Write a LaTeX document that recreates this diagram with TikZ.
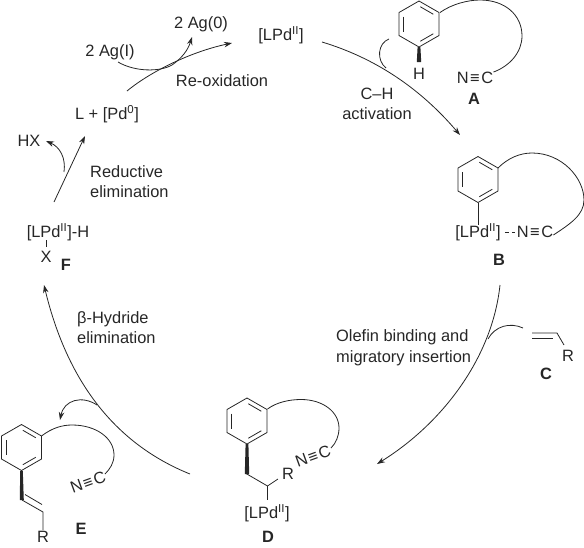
\documentclass[tikz,border=0pt]{standalone}
\usepackage{fontspec}
\setmainfont{Liberation Sans}
\usetikzlibrary{arrows.meta}
\definecolor{ink}{HTML}{262626}
\tikzset{
  lbl/.style={inner sep=0pt,text height=11.5pt,text depth=0pt,text=ink,font=\fontsize{16.4}{18}\selectfont},
  lblb/.style={lbl,font=\fontsize{16.4}{18}\selectfont\bfseries},
  bond/.style={draw=ink,line width=0.8pt},
  flow/.style={draw=ink,line width=0.8pt,-{Stealth[length=8pt,width=5.5pt]}},
  side/.style={draw=ink,line width=0.8pt},
  wedge/.style={fill=ink,draw=none}
}
\newcommand{\nitrile}{N\kern1.6pt≡\kern1.6pt C}
\newcommand{\benzring}[2]{%
  \begin{scope}[shift={(#1,#2)}]
    \draw[bond,line join=round] (0,-23)--(20,-11.5)--(20,11.5)--(0,23)--(-20,11.5)--(-20,-11.5)--cycle;
    \draw[bond,shorten >=1.5pt,shorten <=1.5pt] (-15.6,-9)--(-15.6,9);
    \draw[bond,shorten >=1.5pt,shorten <=1.5pt] (0,-18)--(15.6,-9);
    \draw[bond,shorten >=1.5pt,shorten <=1.5pt] (15.6,9)--(0,18);
  \end{scope}}
\begin{document}
\begin{tikzpicture}[x=1pt,y=-1pt]
\useasboundingbox (0,0) rectangle (584,547);
% named end points of the cycle
\coordinate (oxS) at (127,91);
\coordinate (oxE) at (232,43);
\coordinate (chS) at (322,42);
\coordinate (chE) at (460,135);
\coordinate (olS) at (500,285);
\coordinate (olE) at (377,464);
\coordinate (hyS) at (190,474);
\coordinate (hyE) at (44,285);
\coordinate (reS) at (54,202);
\coordinate (reE) at (85,136);
% cycle labels
\node[lbl] (PdTop) at (281,35) {[LPd\textsuperscript{II}]};
\node[lbl] (Ag0) at (201,23) {2 Ag(0)};
\node[lbl] (AgI) at (110,51) {2 Ag(I)};
\node[lbl] (reox) at (222,81) {Re-oxidation};
\node[lbl] (Pd0) at (107,114) {L + [Pd\textsuperscript{0}]};
\node[lbl] (HX) at (29,141) {HX};
\node[lbl,anchor=west] (red1) at (90,172) {Reductive};
\node[lbl,anchor=west] (red2) at (90,192) {elimination};
\node[lbl] (PdF) at (58,232) {[LPd\textsuperscript{II}]-H};
\node[lbl] (XF) at (46,257) {X};
\node[lblb] (F) at (66,265) {F};
\node[lbl,anchor=west] (hy1) at (77,318) {β-Hydride};
\node[lbl,anchor=west] (hy2) at (77,338) {elimination};
\node[lbl] (ch1) at (377,94) {C–H};
\node[lbl] (ch2) at (377,114) {activation};
\node[lbl,anchor=west] (ol1) at (336,336) {Olefin binding and};
\node[lbl,anchor=west] (ol2) at (336,357) {migratory insertion};
\draw[bond] (46,240)--(46,247);
% A
\benzring{419}{24}
\path[wedge] (417.6,47)--(420.4,47)--(421.2,62)--(416.8,62)--cycle;
\node[lbl] (HA) at (419,74) {H};
\node[lbl] (NCA) at (475,78) {\nitrile};
\node[lblb] (A) at (474,99) {A};
\draw[bond] (440,12.5) .. controls (452,4) and (468,0) .. (480,0) .. controls (505,0) and (522,15) .. (522,36) .. controls (522,52) and (510,66) .. (NCA.north east);
% B
\benzring{478}{179.5}
\node[lbl] (PdB) at (478,232) {[LPd\textsuperscript{II}]};
\node[lbl] (NCB) at (535,232) {\nitrile};
\node[lblb] (B) at (499,260) {B};
\draw[bond] (478,202.5)--(478,225);
\draw[bond,dash pattern=on 4pt off 3pt] ([xshift=4pt]PdB.east)--([xshift=-2pt]NCB.west);
\draw[bond] (498,168) .. controls (508,158) and (520,153) .. (532,153) .. controls (562,153) and (584,178) .. (584,200) .. controls (584,215) and (570,224) .. ([yshift=-3pt]NCB.east);
% C
\node[lbl] (RC) at (568,356) {R};
\node[lblb] (C) at (546,374) {C};
\draw[bond] (532,333)--(557,333)--(564,345);
\draw[bond] (532,338)--(553,338);
% D
\benzring{247}{421}
\path[wedge] (245.6,444)--(248.4,444)--(249.2,474)--(244.8,474)--cycle;
\coordinate (dCH) at (267.5,486);
\draw[bond] (246,473.5)--(dCH)--(278,479);
\draw[bond] (dCH)--(267.5,500);
\node[lbl] (RD) at (288,474) {R};
\node[lbl] (PdD) at (267,513) {[LPd\textsuperscript{II}]};
\node[lblb] (D) at (268,537) {D};
\node[lbl,rotate=20] (NCD) at (313,456) {\nitrile};
\draw[bond] (267.5,409) .. controls (277,402) and (290,399.5) .. (301,399.5) .. controls (323,399.5) and (339,412) .. (339,428) .. controls (339,436) and (336,443) .. (331,448);
% E
\benzring{21.5}{447.5}
\path[wedge] (20.2,471)--(22.8,471)--(23.8,500)--(19.8,500)--cycle;
\draw[bond] (22,500)--(43,512)--(43,530);
\draw[bond] (25,494.5)--(42,504.5);
\node[lbl] (RE) at (43,537) {R};
\node[lblb] (E) at (81,529) {E};
\node[lbl,rotate=20] (NCE) at (88,482) {\nitrile};
\draw[bond] (41.5,436) .. controls (52,428) and (62,425) .. (72,425) .. controls (96,425) and (114,438) .. (114,455) .. controls (114,463) and (110,469) .. (105,474);
% cycle arrows
\draw[flow] (oxS) .. controls (150,72) and (190,52) .. (oxE);
\draw[flow] (chS) .. controls (375,58) and (420,88) .. (chE);
\draw[flow] (olS) .. controls (492,360) and (440,425) .. (olE);
\draw[flow] (hyS) .. controls (118,445) and (68,385) .. (hyE);
\draw[flow] (reS) -- (reE);
% side arrows
\draw[flow] (118,62) .. controls (135,72) and (160,72) .. (172,65) .. controls (182,58) and (188,50) .. (192,37);
\draw[flow] (64,172) .. controls (66,158) and (60,147) .. (46,141);
\draw[side] (389,39) .. controls (378,43) and (376,60) .. (386,68);
\draw[side] (523,328) .. controls (510,322) and (495,326) .. (488,339);
\draw[flow] (97,405) .. controls (82,395) and (64,400) .. (60,420);
\end{tikzpicture}
\end{document}
